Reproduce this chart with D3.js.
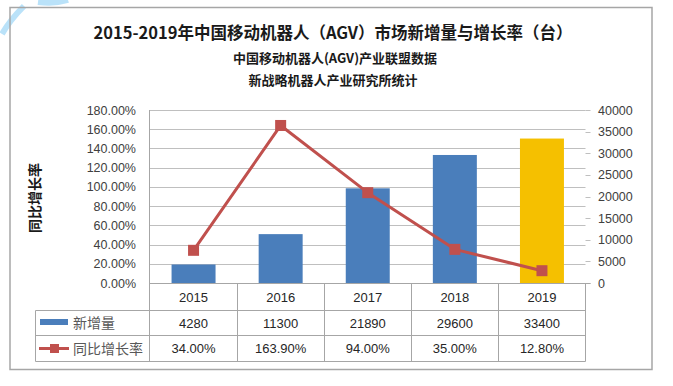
<!DOCTYPE html>
<html><head><meta charset="utf-8">
<script src="https://cdn.jsdelivr.net/npm/d3@7"></script>
<style>
html,body{margin:0;padding:0;background:#fff;}
svg{display:block;}
</style></head>
<body>
<svg id="chart" width="673" height="386"></svg>
<script>
const years = ["2015","2016","2017","2018","2019"];
const newUnits = [4280, 11300, 21890, 29600, 33400];
const growthRate = [0.34, 1.639, 0.94, 0.35, 0.128];
const growthLabels = ["34.00%","163.90%","94.00%","35.00%","12.80%"];
const leftTicks = [0,0.2,0.4,0.6,0.8,1.0,1.2,1.4,1.6,1.8];
const rightTicks = [0,5000,10000,15000,20000,25000,30000,35000,40000];
const seriesNames = ["新增量","同比增长率"];
const titleText = "2015-2019年中国移动机器人（AGV）市场新增量与增长率（台）";
const sub1 = "中国移动机器人(AGV)产业联盟数据";
const sub2 = "新战略机器人产业研究所统计";
const yLabel = "同比增长率";

const svg = d3.select("#chart");
const CJK = "'Noto Sans CJK SC', 'Noto Sans', sans-serif";
const NUM = "'Liberation Sans', Arial, sans-serif";

// decorative watermark arc
svg.append("path").attr("d","M2,34 Q10,20 24,6 M38,2 Q55,4 68,0")
  .attr("fill","none").attr("stroke","#a9dbf7").attr("stroke-width",6).attr("opacity",0.8);

// frame
svg.append("rect").attr("x",10).attr("y",7.5).attr("width",642).attr("height",362)
  .attr("fill","none").attr("stroke","#a6a6a6").attr("stroke-width",1.5);

// titles
svg.append("text").attr("x",333).attr("y",39).attr("text-anchor","middle")
  .attr("font-family",CJK).attr("font-weight","bold").attr("font-size",16.5).attr("fill","#1a1a1a").text(titleText);
svg.append("text").attr("x",335).attr("y",63).attr("text-anchor","middle")
  .attr("font-family",CJK).attr("font-weight","bold").attr("font-size",13).attr("fill","#1a1a1a").text(sub1);
svg.append("text").attr("x",333).attr("y",85).attr("text-anchor","middle")
  .attr("font-family",CJK).attr("font-weight","bold").attr("font-size",13).attr("fill","#1a1a1a").text(sub2);

const L = 150, R = 585.5, T = 110, B = 283;
const x = d3.scaleBand().domain(years).range([L, R]).padding(0);
const yL = d3.scaleLinear().domain([0,1.8]).range([B,T]);
const yR = d3.scaleLinear().domain([0,40000]).range([B,T]);

// gridlines
svg.append("g").selectAll("line").data(leftTicks).join("line")
  .attr("x1",L).attr("x2",R).attr("y1",d=>Math.round(yL(d))+0.5).attr("y2",d=>Math.round(yL(d))+0.5)
  .attr("stroke","#bfbfbf").attr("stroke-width",1);

// left axis labels
const fmtPct = d3.format(".2%");
svg.append("g").selectAll("text").data(leftTicks).join("text")
  .attr("x",136).attr("y",d=>yL(d)+4.5).attr("text-anchor","end")
  .attr("font-family",NUM).attr("font-size",12.5).attr("fill","#404040").text(d=>fmtPct(d));

// right axis tick marks & labels
svg.append("g").selectAll("line").data(rightTicks).join("line")
  .attr("x1",R).attr("x2",R+5).attr("y1",d=>Math.round(yR(d))+0.5).attr("y2",d=>Math.round(yR(d))+0.5)
  .attr("stroke","#bfbfbf");
svg.append("g").selectAll("text").data(rightTicks).join("text")
  .attr("x",598).attr("y",d=>yR(d)+4.5).attr("text-anchor","start")
  .attr("font-family",NUM).attr("font-size",12.5).attr("fill","#404040").text(d=>d);

// y label
svg.append("text").attr("transform","translate(40,198) rotate(-90)").attr("text-anchor","middle")
  .attr("font-family",CJK).attr("font-weight","bold").attr("font-size",14).attr("fill","#1a1a1a").text(yLabel);

// bars
const bw = x.bandwidth()*0.505;
svg.append("g").selectAll("rect").data(years).join("rect")
  .attr("x",(d)=>x(d)+x.bandwidth()/2-bw/2)
  .attr("y",(d,i)=>yR(newUnits[i]))
  .attr("width",bw)
  .attr("height",(d,i)=>B-yR(newUnits[i]))
  .attr("fill",(d,i)=> i===years.length-1 ? "#F5C000" : "#4A7EBB");

// table lines
const tl = svg.append("g").attr("stroke","#a6a6a6").attr("stroke-width",1);
const rowY = [310.5, 335.5, 361.5];
rowY.forEach(yy=>tl.append("line").attr("x1",35.5).attr("x2",R).attr("y1",yy).attr("y2",yy));
tl.append("line").attr("x1",35.5).attr("x2",35.5).attr("y1",310.5).attr("y2",361.5);
years.forEach((d,i)=>{
  if(i>0) tl.append("line").attr("x1",Math.round(x(d))+0.5).attr("x2",Math.round(x(d))+0.5).attr("y1",B).attr("y2",361.5);
});
tl.append("line").attr("x1",R).attr("x2",R).attr("y1",B).attr("y2",361.5);
// axes lines
svg.append("line").attr("x1",L-0.5).attr("x2",L-0.5).attr("y1",T).attr("y2",361.5).attr("stroke","#a6a6a6");
svg.append("line").attr("x1",L).attr("x2",R+5).attr("y1",B+0.5).attr("y2",B+0.5).attr("stroke","#a6a6a6");

// line series
const line = d3.line().x((d,i)=>x(years[i])+x.bandwidth()/2).y(d=>yL(d));
svg.append("path").datum(growthRate).attr("d",line).attr("fill","none")
  .attr("stroke","#C0504D").attr("stroke-width",3).attr("stroke-linejoin","round");
svg.append("g").selectAll("rect").data(growthRate).join("rect")
  .attr("x",(d,i)=>x(years[i])+x.bandwidth()/2-5.5).attr("y",d=>yL(d)-5.5)
  .attr("width",11).attr("height",11).attr("fill","#C0504D");

// table text
const cx = d=>x(d)+x.bandwidth()/2;
svg.append("g").selectAll("text").data(years).join("text")
  .attr("x",cx).attr("y",302).attr("text-anchor","middle")
  .attr("font-family",NUM).attr("font-size",13).attr("fill","#262626").text(d=>d);
svg.append("g").selectAll("text").data(years).join("text")
  .attr("x",cx).attr("y",327.5).attr("text-anchor","middle")
  .attr("font-family",NUM).attr("font-size",13).attr("fill","#262626").text((d,i)=>newUnits[i]);
svg.append("g").selectAll("text").data(years).join("text")
  .attr("x",cx).attr("y",353).attr("text-anchor","middle")
  .attr("font-family",NUM).attr("font-size",13).attr("fill","#262626").text((d,i)=>growthLabels[i]);

// legend in table
svg.append("rect").attr("x",40).attr("y",319).attr("width",28).attr("height",6).attr("fill","#4A7EBB");
svg.append("text").attr("x",73).attr("y",328).attr("font-family",CJK).attr("font-size",14).attr("fill","#595959").text(seriesNames[0]);
svg.append("line").attr("x1",39).attr("x2",69).attr("y1",348.5).attr("y2",348.5).attr("stroke","#C0504D").attr("stroke-width",3);
svg.append("rect").attr("x",50).attr("y",344).attr("width",9).attr("height",9).attr("fill","#C0504D");
svg.append("text").attr("x",73).attr("y",354).attr("font-family",CJK).attr("font-size",14).attr("fill","#595959").text(seriesNames[1]);
</script>
</body></html>
